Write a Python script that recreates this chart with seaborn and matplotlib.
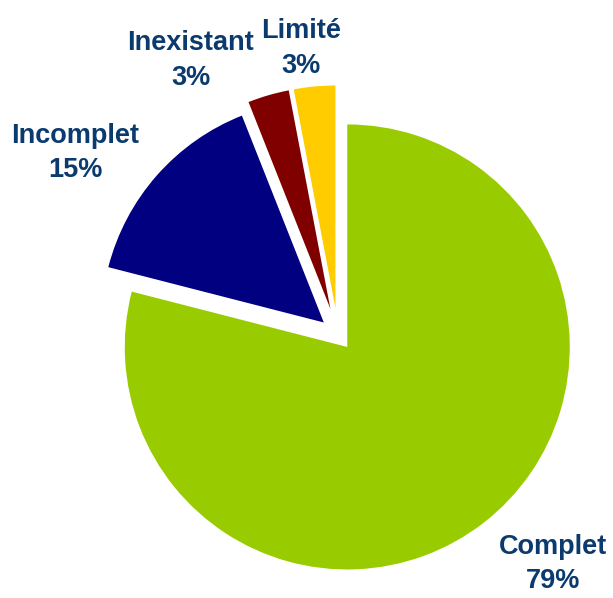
import matplotlib
matplotlib.use("Agg")
import matplotlib.pyplot as plt
import seaborn as sns

# Completeness status shares (%)
categories = ["Complet", "Incomplet", "Inexistant", "Limité"]
shares = [79, 15, 3, 3]

# Styling
colors = ["#99CC00", "#000080", "#800000", "#FFCC00"]
explode = [0.068, 0.085, 0.122, 0.122]
label_pos = [(0.966, -1.030), (-1.182, 0.818), (-0.662, 1.234), (-0.166, 1.288)]
text_color = "#0B3B6E"

sns.set_theme(style="white")
plt.rcParams["font.family"] = ["Liberation Sans", "DejaVu Sans"]

fig = plt.figure(figsize=(6.13, 5.98), dpi=100)
ax = fig.add_axes([0, 0, 1, 1])

wedges, _ = ax.pie(
    shares,
    colors=colors,
    explode=explode,
    startangle=90,
    counterclock=False,
    wedgeprops=dict(linewidth=0),
)

for cat, val, (x, y) in zip(categories, shares, label_pos):
    ax.text(x, y, f"{cat}\n{val}%", ha="center", va="center",
            fontsize=19.5, fontweight="bold", color=text_color, linespacing=1.41)

ax.set_xlim(-1.5191, 1.2360)
ax.set_ylim(-1.1820, 1.5056)
ax.set_aspect("auto")
ax.axis("off")

fig.savefig("out.png", dpi=100, facecolor="white")
